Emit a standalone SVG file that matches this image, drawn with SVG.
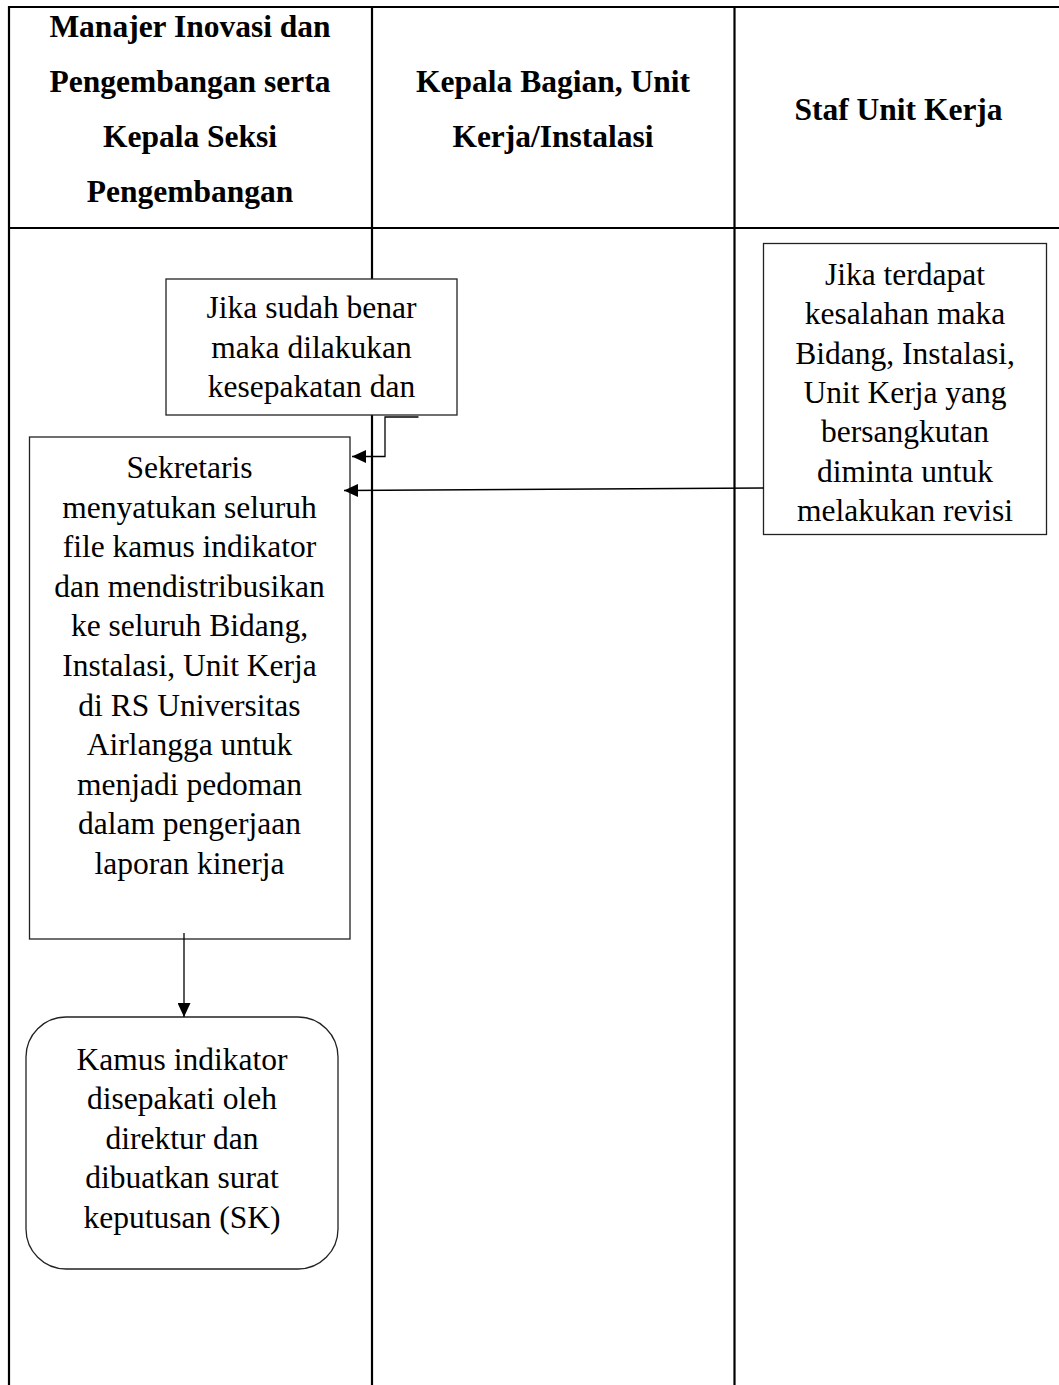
<svg xmlns="http://www.w3.org/2000/svg" width="1059" height="1385" viewBox="0 0 1059 1385">
<style>
.grid{stroke:#000;stroke-width:2.2;fill:none}
.box{fill:#fff;stroke:#222;stroke-width:1.3}
.conn{stroke:#000;stroke-width:1.3;fill:none}
.h{font-family:"Liberation Serif","Times New Roman",serif;font-weight:bold;font-size:31.5px;text-anchor:middle;fill:#000}
.t{font-family:"Liberation Serif","Times New Roman",serif;font-size:31.5px;text-anchor:middle;fill:#000}
</style>
<defs>
<marker id="arr" viewBox="0 0 14 13" refX="14" refY="6.5" markerWidth="14" markerHeight="13" markerUnits="userSpaceOnUse" orient="auto">
<path d="M0,0 L14,6.5 L0,13 Z" fill="#000"/>
</marker>
</defs>
<rect width="1059" height="1385" fill="#fff"/>
<g id="table">
<line class="grid" x1="9" y1="7" x2="1063" y2="7"/>
<line class="grid" x1="9" y1="228" x2="1063" y2="228"/>
<line class="grid" x1="9" y1="6" x2="9" y2="1385"/>
<line class="grid" x1="372" y1="6" x2="372" y2="1385"/>
<line class="grid" x1="734.5" y1="6" x2="734.5" y2="1385"/>
</g>
<g id="header1">
<text class="h" x="190" y="37">Manajer Inovasi dan</text>
<text class="h" x="190" y="92">Pengembangan serta</text>
<text class="h" x="190" y="147">Kepala Seksi</text>
<text class="h" x="190" y="202">Pengembangan</text>
</g>
<g id="header2">
<text class="h" x="553" y="92">Kepala Bagian, Unit</text>
<text class="h" x="553" y="147">Kerja/Instalasi</text>
</g>
<g id="header3">
<text class="h" x="898.5" y="120">Staf Unit Kerja</text>
</g>
<g id="node-jika-benar">
<rect class="box" x="166" y="279" width="291" height="136"/>
<text class="t" x="311.5" y="318">Jika sudah benar</text>
<text class="t" x="311.5" y="358">maka dilakukan</text>
<text class="t" x="311.5" y="397">kesepakatan dan</text>
</g>
<g id="node-jika-salah">
<rect class="box" x="763.5" y="243.5" width="283" height="291"/>
<text class="t" x="905" y="285">Jika terdapat</text>
<text class="t" x="905" y="324.3">kesalahan maka</text>
<text class="t" x="905" y="363.6">Bidang, Instalasi,</text>
<text class="t" x="905" y="402.9">Unit Kerja yang</text>
<text class="t" x="905" y="442.2">bersangkutan</text>
<text class="t" x="905" y="481.5">diminta untuk</text>
<text class="t" x="905" y="520.8">melakukan revisi</text>
</g>
<g id="node-sekretaris">
<rect class="box" x="29.5" y="437" width="320.5" height="502"/>
<text class="t" x="189.5" y="478">Sekretaris</text>
<text class="t" x="189.5" y="517.6">menyatukan seluruh</text>
<text class="t" x="189.5" y="557.2">file kamus indikator</text>
<text class="t" x="189.5" y="596.8">dan mendistribusikan</text>
<text class="t" x="189.5" y="636.4">ke seluruh Bidang,</text>
<text class="t" x="189.5" y="676">Instalasi, Unit Kerja</text>
<text class="t" x="189.5" y="715.6">di RS Universitas</text>
<text class="t" x="189.5" y="755.2">Airlangga untuk</text>
<text class="t" x="189.5" y="794.8">menjadi pedoman</text>
<text class="t" x="189.5" y="834.4">dalam pengerjaan</text>
<text class="t" x="189.5" y="874">laporan kinerja</text>
</g>
<g id="node-kamus">
<rect class="box" x="26" y="1017" width="312" height="252" rx="40" ry="40"/>
<text class="t" x="182" y="1070">Kamus indikator</text>
<text class="t" x="182" y="1109.4">disepakati oleh</text>
<text class="t" x="182" y="1148.8">direktur dan</text>
<text class="t" x="182" y="1188.2">dibuatkan surat</text>
<text class="t" x="182" y="1227.6">keputusan (SK)</text>
</g>
<g id="connectors">
<polyline class="conn" points="418.5,417 385,417 385,456.5 352,456.5" marker-end="url(#arr)"/>
<line class="conn" x1="763.5" y1="488" x2="344" y2="490.5" marker-end="url(#arr)"/>
<line class="conn" x1="184" y1="933" x2="184" y2="1017" marker-end="url(#arr)"/>
</g>
</svg>
